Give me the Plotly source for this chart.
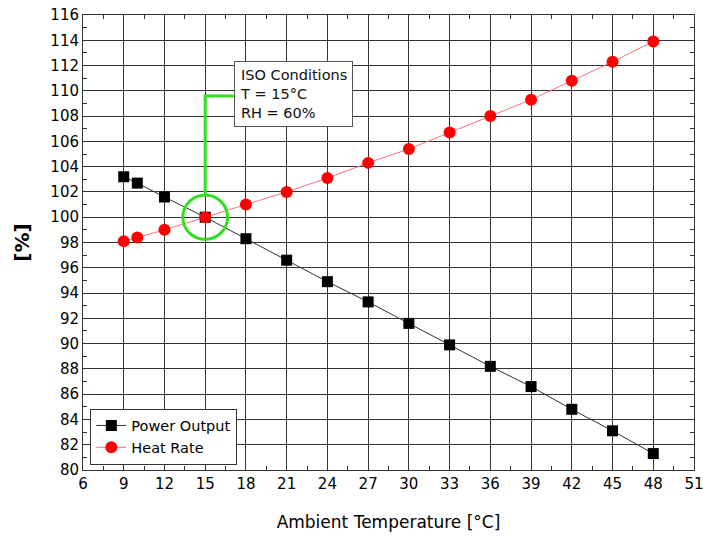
import plotly.graph_objects as go

temps = [9, 10, 12, 15, 18, 21, 24, 27, 30, 33, 36, 39, 42, 45, 48]
power_output = [103.2, 102.7, 101.6, 100.0, 98.3, 96.6, 94.9, 93.3, 91.6, 89.9, 88.2, 86.6, 84.8, 83.1, 81.3]
heat_rate = [98.1, 98.4, 99.0, 100.0, 101.0, 102.0, 103.1, 104.3, 105.4, 106.7, 108.0, 109.3, 110.8, 112.3, 113.9]

x_ticks = list(range(6, 52, 3))
y_ticks = list(range(80, 117, 2))

FONT = "DejaVu Sans"

fig = go.Figure()
fig.add_trace(go.Scatter(x=temps, y=power_output, name="Power Output", mode="lines+markers",
                         line=dict(color="#333333", width=1),
                         marker=dict(symbol="square", size=11, color="black")))
fig.add_trace(go.Scatter(x=temps, y=heat_rate, name="Heat Rate", mode="lines+markers",
                         line=dict(color="#ff6f7f", width=1),
                         marker=dict(symbol="circle", size=12, color="#ff0000")))

green = "#33dd22"
fig.add_shape(type="circle", xref="x", yref="y", x0=15 - 1.65, x1=15 + 1.65, y0=100 - 1.75, y1=100 + 1.75,
              line=dict(color=green, width=3))
fig.add_shape(type="path", xref="x", yref="y", path="M 15,101.75 L 15,109.6 L 17.1,109.6",
              line=dict(color=green, width=3))
fig.add_annotation(x=17.1, y=112.4, xref="x", yref="y", xanchor="left", yanchor="top",
                   text="ISO Conditions<br>T = 15°C<br>RH = 60%", showarrow=False, align="left",
                   font=dict(family=FONT, size=14.5, color="#111111"),
                   bgcolor="white", bordercolor="#555555", borderwidth=1, borderpad=5)

axis_common = dict(showgrid=True, gridcolor="#333333", gridwidth=1, showline=True, linecolor="#333333",
                   linewidth=1, mirror="allticks", ticks="inside", ticklen=5, tickcolor="#333333",
                   tickfont=dict(family=FONT, size=15, color="black"), zeroline=False, automargin=False,
                   ticklabeloverflow="allow")

fig.update_xaxes(range=[6, 51], tickvals=x_ticks, **axis_common,
                 minor=dict(dtick=1.5, tick0=6, ticks="inside", ticklen=4, tickcolor="#333333", showgrid=False),
                 title=dict(text="Ambient Temperature [°C]", font=dict(family=FONT, size=17, color="black"),
                            standoff=24))
fig.update_yaxes(range=[80, 116], tickvals=y_ticks, **axis_common,
                 minor=dict(dtick=1, tick0=80, ticks="inside", ticklen=4, tickcolor="#333333", showgrid=False),
                 title=dict(text="<b>[%]</b>", font=dict(family=FONT, size=20, color="black"), standoff=15))

fig.update_layout(width=703, height=538, margin=dict(l=83, r=9, t=15, b=68),
                  plot_bgcolor="white", paper_bgcolor="white",
                  legend=dict(x=0.012, y=0.012, xanchor="left", yanchor="bottom", bgcolor="white",
                              bordercolor="#333333", borderwidth=1,
                              font=dict(family=FONT, size=14.5, color="black"), tracegroupgap=0))

fig.write_html("out.html", config={"displayModeBar": False},
               post_script="document.body.style.margin='0';")
